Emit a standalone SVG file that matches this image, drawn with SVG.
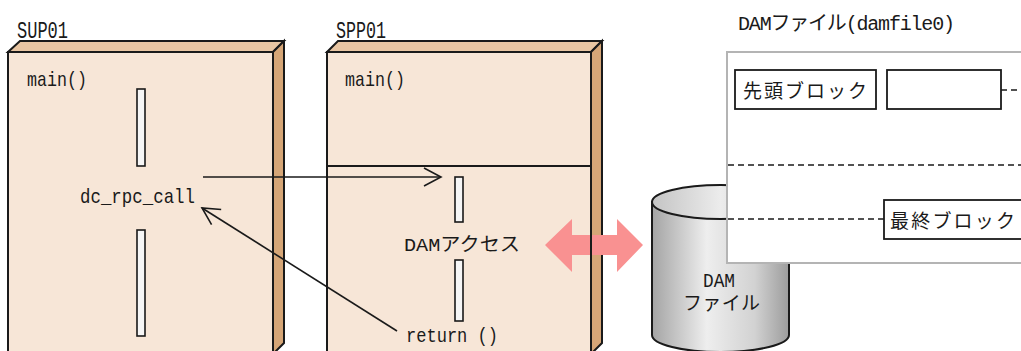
<svg xmlns="http://www.w3.org/2000/svg" width="1021" height="351" viewBox="0 0 1021 351">
<style>
.front{fill:#f7e6d7;stroke:#1a1a1a;stroke-width:2}
.top{fill:#e9c6a3;stroke:#1a1a1a;stroke-width:2;stroke-linejoin:miter}
.side{fill:#d6a677;stroke:#1a1a1a;stroke-width:2}
.bar{fill:#f6f6f6;stroke:#1a1a1a;stroke-width:1.6}
.t{font-family:"Liberation Mono","Noto Sans CJK JP",monospace;fill:#1a1a1a}
.conn{fill:none;stroke:#1a1a1a;stroke-width:1.6}
.dash{fill:none;stroke:#1a1a1a;stroke-width:1.6;stroke-dasharray:6 4}
.blk{fill:#fff;stroke:#1a1a1a;stroke-width:1.8}
</style>
<defs>
<marker id="open" viewBox="0 0 20 20" refX="18" refY="10" markerWidth="20" markerHeight="20" markerUnits="userSpaceOnUse" orient="auto">
<path d="M1,1 L18,10 L1,19" fill="none" stroke="#1a1a1a" stroke-width="1.6"/>
</marker>
<linearGradient id="cyl" x1="0" y1="0" x2="1" y2="0">
<stop offset="0" stop-color="#a4a4a4"/>
<stop offset="0.4" stop-color="#eeeeee"/>
<stop offset="0.75" stop-color="#d2d2d2"/>
<stop offset="1" stop-color="#9c9c9c"/>
</linearGradient>
<linearGradient id="cyltop" x1="0" y1="0" x2="1" y2="0">
<stop offset="0" stop-color="#c4c4c4"/>
<stop offset="0.5" stop-color="#ececec"/>
<stop offset="1" stop-color="#c8c8c8"/>
</linearGradient>
</defs>

<g id="SUP01">
<text class="t" x="17" y="38" font-size="23" textLength="51" lengthAdjust="spacingAndGlyphs">SUP01</text>
<rect class="front" x="8" y="52" width="265" height="310"/>
<polygon class="top" points="8,52 20,41 284,41 273,52"/>
<polygon class="side" points="273,52 284,41 284,343 273,354"/>
<text class="t" x="27" y="86" font-size="21" textLength="60" lengthAdjust="spacingAndGlyphs">main()</text>
<rect class="bar" x="137" y="89" width="8" height="77"/>
<text class="t" x="80" y="203" font-size="21" textLength="115" lengthAdjust="spacingAndGlyphs">dc_rpc_call</text>
<rect class="bar" x="137" y="230" width="8" height="106"/>
</g>

<g id="SPP01">
<text class="t" x="336" y="38" font-size="23" textLength="50" lengthAdjust="spacingAndGlyphs">SPP01</text>
<rect class="front" x="327" y="52" width="264" height="310"/>
<polygon class="top" points="327,52 338,41 602,41 591,52"/>
<polygon class="side" points="591,52 602,41 602,343 591,354"/>
<line x1="327" y1="166" x2="591" y2="166" stroke="#1a1a1a" stroke-width="2"/>
<text class="t" x="345" y="86" font-size="21" textLength="60" lengthAdjust="spacingAndGlyphs">main()</text>
<rect class="bar" x="455" y="177" width="8" height="45"/>
<text class="t" x="404" y="251" font-size="19" textLength="116" lengthAdjust="spacingAndGlyphs">DAMアクセス</text>
<rect class="bar" x="455" y="260" width="8" height="61"/>
<text class="t" x="406" y="342" font-size="21" textLength="92" lengthAdjust="spacingAndGlyphs">return ()</text>
</g>

<g id="access-arrow">
<polygon points="545,245 572,219 572,235 617,235 617,219 643,245 617,272 617,255 572,255 572,272" fill="#f99191"/>
<line x1="591" y1="230" x2="591" y2="260" stroke="#1a1a1a" stroke-width="2"/>
</g>

<g id="DAMfile-cyl">
<path d="M652,202 L652,335 A68.5,17 0 0 0 789,335 L789,202 Z" fill="url(#cyl)" stroke="#1a1a1a" stroke-width="2"/>
<ellipse cx="720.5" cy="202" rx="68.5" ry="17" fill="url(#cyltop)" stroke="#1a1a1a" stroke-width="2"/>
<text class="t" x="719" y="287" font-size="21" text-anchor="middle" textLength="32" lengthAdjust="spacingAndGlyphs">DAM</text>
<text class="t" x="721.5" y="310" font-size="19" text-anchor="middle" textLength="77" lengthAdjust="spacing">ファイル</text>
</g>

<g id="damfile0">
<text class="t" x="738" y="30" font-size="20" textLength="217" lengthAdjust="spacing">DAMファイル(damfile0)</text>
<rect x="727" y="52" width="310" height="211" fill="#fff" stroke="#b4b4b4" stroke-width="2"/>
<rect class="blk" x="735" y="70" width="141" height="39"/>
<text class="t" x="743" y="98" font-size="19" textLength="124" lengthAdjust="spacing">先頭ブロック</text>
<rect class="blk" x="887" y="70" width="114" height="39"/>
<line class="dash" x1="1001" y1="90" x2="1021" y2="90"/>
<line class="dash" x1="728" y1="165" x2="1021" y2="165"/>
<line class="dash" x1="728" y1="219" x2="884" y2="219"/>
<rect class="blk" x="884" y="200" width="150" height="39"/>
<text class="t" x="890" y="228" font-size="19" textLength="125" lengthAdjust="spacing">最終ブロック</text>
</g>

<g id="connectors">
<line class="conn" x1="203" y1="177" x2="441" y2="177" marker-end="url(#open)"/>
<line class="conn" x1="397" y1="331" x2="202" y2="208" marker-end="url(#open)"/>
</g>
</svg>
